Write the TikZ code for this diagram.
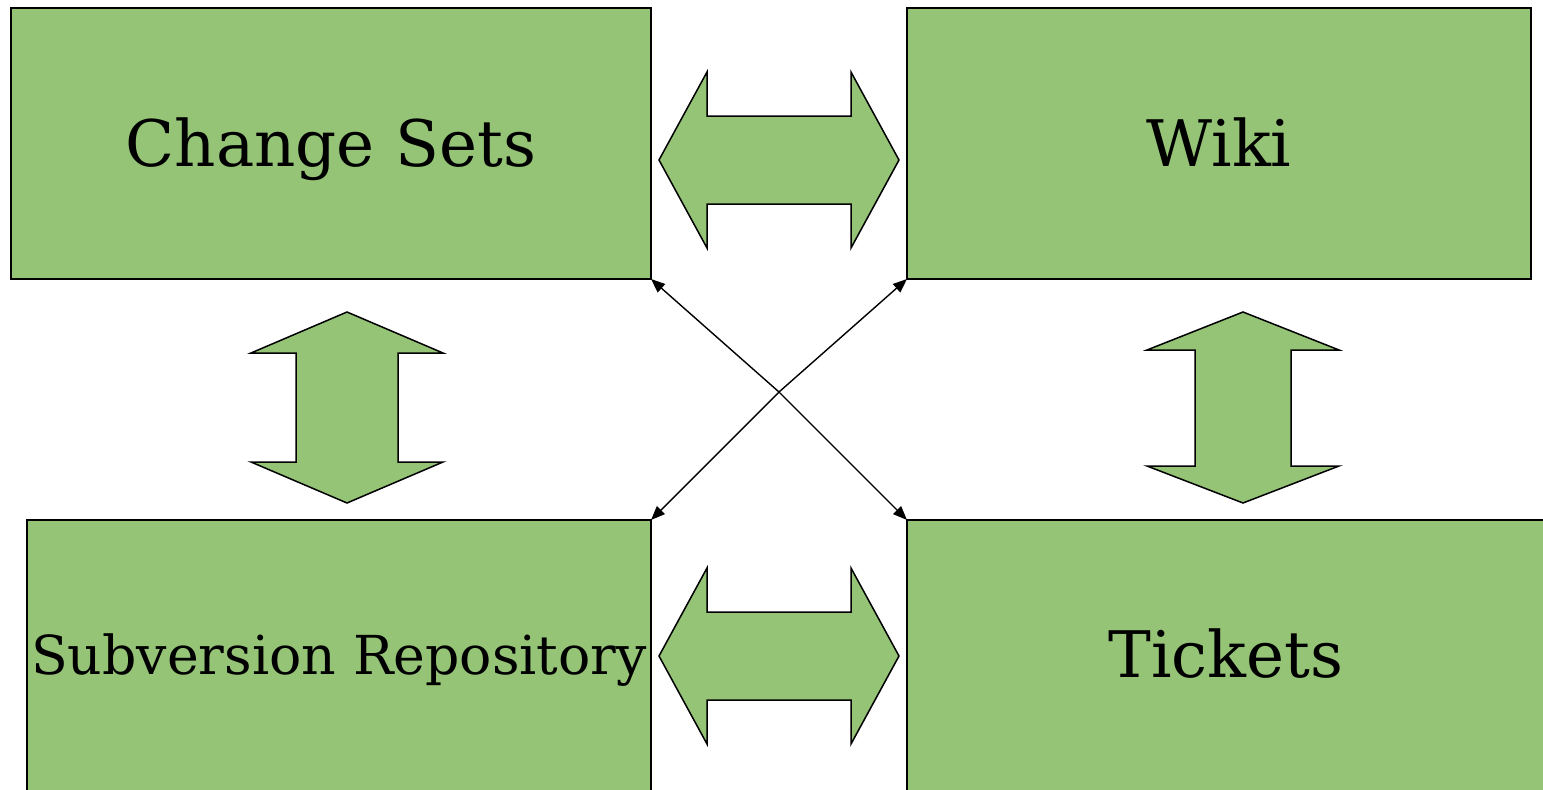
\documentclass[tikz,border=0pt]{standalone}
\usepackage{fontspec}
\setmainfont{DejaVu Serif}
\usetikzlibrary{arrows.meta}
\definecolor{boxgreen}{RGB}{149,196,119}
\begin{document}
\begin{tikzpicture}[x=1pt,y=-1pt,
  box/.style={draw=black,fill=boxgreen,line width=1.5pt,rectangle,inner sep=0pt,outer sep=0pt},
  lbl/.style={anchor=base,inner sep=0pt,font=\fontsize{64.2}{70}\selectfont},
  smalllbl/.style={anchor=base,inner sep=0pt,font=\fontsize{53.7}{60}\selectfont},
  bigarrow/.style={draw=black,fill=boxgreen,line width=1.5pt,line join=miter},
  link/.style={draw=black,line width=1.4pt,{Triangle[length=14pt,width=11pt]}-{Triangle[length=14pt,width=11pt]}}
]
\useasboundingbox (0,0) rectangle (1543,790);
\clip (0,0) rectangle (1543,790);
% boxes
\node[box,minimum width=640pt,minimum height=271pt] (cs) at (331,143.5) {};
\node[box,minimum width=624pt,minimum height=271pt] (wiki) at (1219,143.5) {};
\node[box,minimum width=624pt,minimum height=272pt] (sr) at (339,656) {};
\node[box,minimum width=638pt,minimum height=272pt] (tk) at (1226,656) {};
% labels
\node[lbl] (cslbl) at (331,166) {Change Sets};
\node[lbl] (wikilbl) at (1219,166) {Wiki};
\node[smalllbl] (srlbl) at (339,674) {Subversion Repository};
\node[lbl] (tklbl) at (1226,677) {Tickets};
% horizontal double arrows
\draw[bigarrow] (659,160) -- (707,72) -- (707,116) -- (851,116) -- (851,72) -- (899,160)
  -- (851,248) -- (851,204) -- (707,204) -- (707,248) -- cycle;
\draw[bigarrow] (659,656) -- (707,568) -- (707,612) -- (851,612) -- (851,568) -- (899,656)
  -- (851,744) -- (851,700) -- (707,700) -- (707,744) -- cycle;
% vertical double arrows
\draw[bigarrow] (347,312) -- (443,353) -- (398,353) -- (398,462) -- (443,462) -- (347,503)
  -- (251,462) -- (296,462) -- (296,353) -- (251,353) -- cycle;
\draw[bigarrow] (1243,312) -- (1339,350) -- (1291,350) -- (1291,466) -- (1339,466) -- (1243,503)
  -- (1147,466) -- (1195,466) -- (1195,350) -- (1147,350) -- cycle;
% crossing links
\coordinate (x) at (779,392);
\draw[link] (cs.south east) -- (x) -- (tk.north west);
\draw[link] (wiki.south west) -- (x) -- (sr.north east);
\end{tikzpicture}
\end{document}
